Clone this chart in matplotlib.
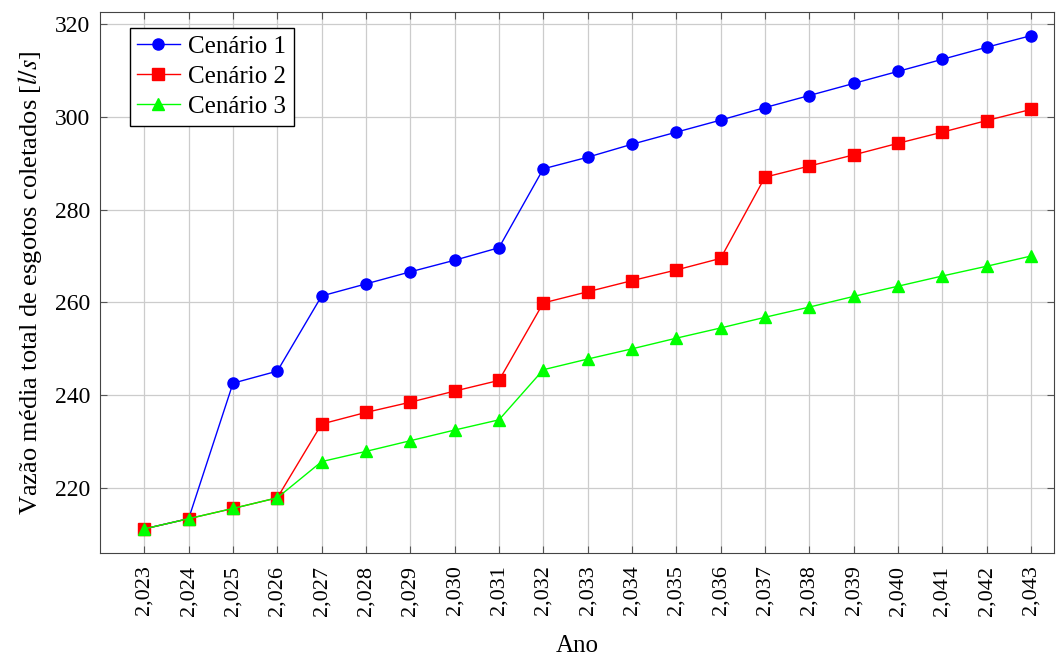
import matplotlib.pyplot as plt
from matplotlib.ticker import FixedLocator

anos = list(range(2023, 2044))
tick_labels = ["2,0" + str(a)[2:] for a in anos]

cenario_1 = [211.2, 213.4, 242.6, 245.2, 261.4, 264.0, 266.6, 269.1, 271.8, 288.8,
             291.3, 294.1, 296.7, 299.3, 302.0, 304.6, 307.2, 309.8, 312.4, 315.0, 317.5]
cenario_2 = [211.2, 213.4, 215.6, 217.9, 233.8, 236.3, 238.5, 240.9, 243.2, 259.9,
             262.3, 264.7, 267.0, 269.5, 287.0, 289.4, 291.8, 294.3, 296.7, 299.2, 301.6]
cenario_3 = [211.2, 213.4, 215.6, 217.9, 225.7, 227.9, 230.2, 232.5, 234.7, 245.5,
             247.8, 250.0, 252.3, 254.5, 256.8, 259.0, 261.3, 263.5, 265.7, 267.8, 270.0]

plt.rcParams['font.family'] = ['Liberation Serif', 'DejaVu Serif']
plt.rcParams['mathtext.fontset'] = 'stix'

fig = plt.figure(figsize=(10.64, 6.6), dpi=100)
ax = fig.add_axes([100 / 1064, 1 - 553 / 660, 954 / 1064, 541 / 660])

ax.plot(anos, cenario_1, color='blue', marker='o', markersize=8, linewidth=1, label='Cenário 1', zorder=3)
ax.plot(anos, cenario_2, color='red', marker='s', markersize=8, linewidth=1, label='Cenário 2', zorder=3)
ax.plot(anos, cenario_3, color='#00ff00', marker='^', markersize=8, linewidth=1, label='Cenário 3', zorder=3)

ax.set_xlim(2022.0, 2043.52)
ax.set_ylim(206.0, 322.6)
ax.xaxis.set_major_locator(FixedLocator(anos))
ax.set_xticklabels(tick_labels, rotation=90, fontsize=16)
ax.set_yticks([220, 240, 260, 280, 300, 320])
ax.tick_params(axis='y', labelsize=17, pad=7)
ax.tick_params(axis='x', pad=9)
ax.tick_params(direction='in', top=True, right=True, length=5, color='#555555')
ax.grid(True, color='#cccccc', linewidth=0.9)
ax.set_axisbelow(True)
for s in ax.spines.values():
    s.set_color('#444444')

ax.set_xlabel('Ano', fontsize=18, labelpad=14)
ax.set_ylabel('Vazão média total de esgotos coletados [$l/s$]', fontsize=19, labelpad=8)

leg = ax.legend(loc='upper left', bbox_to_anchor=(0.031, 0.970), borderaxespad=0, fontsize=18,
                fancybox=False, framealpha=1, edgecolor='black', borderpad=0.3, labelspacing=0.3,
                handlelength=1.7, handletextpad=0.35)
leg.get_frame().set_linewidth(1.0)

fig.savefig('out.png', dpi=100)
